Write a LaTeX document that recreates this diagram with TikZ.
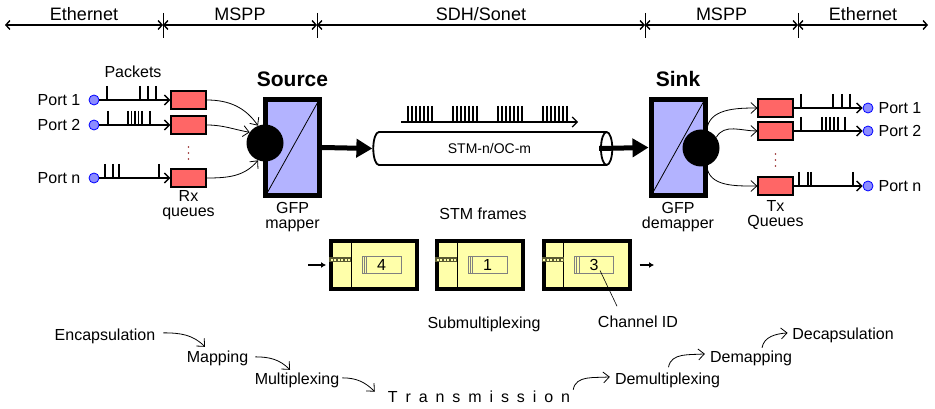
\documentclass[tikz,border=0pt]{standalone}
\usepackage{fontspec}
\setmainfont{Liberation Sans}
\usetikzlibrary{arrows.meta, positioning, shapes.geometric, calc}
\definecolor{red1}{RGB}{255,102,102}
\definecolor{lavender1}{RGB}{179,179,255}
\definecolor{blue1}{RGB}{140,140,255}
\definecolor{yellow1}{RGB}{255,255,170}
\definecolor{olive1}{RGB}{90,90,50}
\definecolor{dots1}{RGB}{150,40,40}
\newcommand{\lsp}{\hspace{7.9pt}}

\begin{document}
\begin{tikzpicture}[x=1pt, y=-1pt,
    every node/.style={inner sep=0pt, font=\fontsize{16}{15}\selectfont},
    layer/.style={line width=1.4pt, {Straight Barb[length=4pt, width=9pt]}-{Straight Barb[length=4pt, width=9pt]}},
    layertick/.style={line width=0.9pt},
    port/.style={circle, draw=blue, fill=blue1, minimum size=10pt, line width=0.8pt},
    queue/.style={draw=black, fill=red1, line width=1.2pt, minimum width=35pt, minimum height=18pt},
    pktarrow/.style={line width=1.4pt, -{Straight Barb[length=5pt, width=10pt]}},
    pktbar/.style={line width=2.4pt},
    flowarrow/.style={line width=0.8pt, -{Straight Barb[length=6pt, width=11pt]}},
    gfpbox/.style={draw=black, fill=lavender1, line width=5pt, minimum width=54pt, minimum height=96pt},
    hub/.style={circle, fill=black, minimum size=37pt},
    trunk/.style={line width=5pt, -{Triangle[length=16pt, width=18pt]}},
    stmframe/.style={draw=black, fill=yellow1, line width=4pt, minimum width=86pt, minimum height=48pt},
    payload/.style={draw=gray, line width=0.8pt, minimum width=39pt, minimum height=17pt},
    feedarrow/.style={line width=1.3pt, -{Latex[length=5pt, width=6pt]}}
]
    \useasboundingbox (0,0) rectangle (935,409);

    % network layers on top
    \foreach \n/\x in {0/5, 1/163, 2/317, 3/645, 4/798, 5/928}
        \coordinate (B\n) at (\x,25);
    \foreach \n in {1,2,3,4}
        \draw[layertick] ([yshift=12pt]B\n) -- ([yshift=-13pt]B\n);
    \foreach \a/\b/\t in {0/1/Ethernet, 1/2/MSPP, 2/3/{SDH/Sonet}, 3/4/MSPP, 4/5/Ethernet}
        \draw[layer] (B\a) -- (B\b) node[midway, above=4pt, font=\fontsize{18}{18}\selectfont] {\t};

    % source side
    \node (pktT) at (133,72) {Packets};
    \foreach \i/\y in {1/100, 2/125, n/178}
    {
        \node[port] (inP\i) at (94,\y) {};
        \node[left=8pt of inP\i] (inL\i) {Port \i};
        \node[queue] (rxQ\i) at (188.5,\y) {};
        \draw[pktarrow] (inP\i) -- (rxQ\i);
    };
    \foreach \x in {107,140,148,156} \draw[pktbar] (\x,86) -- (\x,100);
    \foreach \x in {108,150} \draw[pktbar] (\x,111) -- (\x,125);
    \foreach \x in {128,131.5,135,138.5,142} \draw[pktbar, line width=1.6pt] (\x,111) -- (\x,125);
    \foreach \x in {105,113,119,159} \draw[pktbar] (\x,164) -- (\x,178);
    \foreach \y in {147,153,159} \fill[dots1] (188.5,\y) circle (0.8pt);
    \node[below=3pt of rxQn, align=center] (rxT) {Rx\\queues};

    \node[gfpbox] (mapper) at (292.5,147.5) {};
    \draw[line width=0.8pt] ([shift={(3pt,3pt)}]mapper.south west) -- ([shift={(-3pt,-3pt)}]mapper.north east);
    \node[hub] (hubIn) at (265,143) {};
    \node[above=10pt of mapper, font=\fontsize{21}{21}\selectfont\bfseries] (srcT) {Source};
    \node[below=4.5pt of mapper, align=center] (mapperT) {GFP\\mapper};
    \draw[flowarrow] (rxQ1.east) to[out=0, in=125] (hubIn.112);
    \draw[flowarrow] (rxQ2.east) to[out=0, in=170] (hubIn.145);
    \draw[flowarrow] (rxQn.east) to[out=0, in=-130] (hubIn.248);

    % transport
    \node[cylinder, draw, line width=1.8pt, aspect=1.1, minimum width=33pt, minimum height=239pt,
          font=\fontsize{14}{14}\selectfont] (pipe) at (489.5,148.5) {STM-n/OC-m};
    \draw[trunk] (mapper.east) -- (pipe.west);
    \coordinate (trainA) at (401,122);
    \coordinate (trainB) at (578,122);
    \draw[pktarrow, line width=1.2pt] (trainA) -- (trainB);
    \foreach \g in {408,453,498,543}
        \foreach \k in {0,...,6}
            \draw[line width=1.2pt] (\g+4*\k,106) -- (\g+4*\k,122);

    % sink side
    \node[gfpbox] (demapper) at (678,147.5) {};
    \draw[line width=0.8pt] ([shift={(3pt,3pt)}]demapper.south west) -- ([shift={(-3pt,-3pt)}]demapper.north east);
    \node[hub] (hubOut) at (701,148) {};
    \draw[trunk] ([xshift=-14pt]pipe.east) -- (demapper.west);
    \node[above=10pt of demapper, font=\fontsize{21}{21}\selectfont\bfseries] (sinkT) {Sink};
    \node[below=4.5pt of demapper, align=center] (demapperT) {GFP\\demapper};

    \foreach \i/\y in {1/108, 2/131, n/186}
    {
        \node[queue] (txQ\i) at (775.5,\y) {};
        \node[port] (outP\i) at (868,\y) {};
        \node[right=5pt of outP\i] (outL\i) {Port \i};
        \draw[pktarrow] (txQ\i) -- (outP\i);
    };
    \foreach \x in {801,833,842,850} \draw[pktbar] (\x,94) -- (\x,108);
    \foreach \x in {801,845} \draw[pktbar] (\x,117) -- (\x,131);
    \foreach \x in {822,826,830,834,838} \draw[pktbar, line width=1.6pt] (\x,117) -- (\x,131);
    \foreach \x in {799,808,811,853} \draw[pktbar] (\x,172) -- (\x,186);
    \foreach \y in {154,160,166} \fill[dots1] (775.5,\y) circle (0.8pt);
    \node[below=5pt of txQn, align=center] (txT) {Tx\\Queues};
    \draw[flowarrow] (hubOut.72) to[out=85, in=180] (txQ1.west);
    \draw[flowarrow] (hubOut.35) to[out=60, in=180] (txQ2.west);
    \draw[flowarrow] (hubOut.-72) to[out=-85, in=180] (txQn.west);

    % STM frames
    \node[anchor=base] (stmT) at (483,219) {STM frames};
    \foreach \i/\x/\c in {1/374/4, 2/480/1, 3/586.5/3}
    {
        \node[stmframe] (frm\i) at (\x,265) {};
        \draw[line width=1pt] ([xshift=22pt]frm\i.north west) -- ([xshift=22pt]frm\i.south west);
        \fill[olive1] ([yshift=8pt]frm\i.west) rectangle ([shift={(22pt,3pt)}]frm\i.west);
        \foreach \k in {0,...,5}
            \fill[yellow1] ([shift={(1.5pt+3.5pt*\k,4.5pt)}]frm\i.west) rectangle ++(2pt,2pt);
        \node[payload] (pay\i) at ([xshift=7.5pt]frm\i.center) {\c};
        \draw[gray, line width=0.6pt] ([xshift=2.5pt]pay\i.north west) -- ([xshift=2.5pt]pay\i.south west);
        \draw[gray, line width=0.6pt] ([xshift=5pt]pay\i.north west) -- ([xshift=5pt]pay\i.south west);
    };
    \coordinate (feedIn) at (308,265);
    \coordinate (feedOut) at (654,265);
    \draw[feedarrow, shorten >=3pt] (feedIn) -- (frm1.west);
    \draw[feedarrow, shorten <=8pt] (frm3.east) -- (feedOut);
    \node[anchor=base] (subT) at (484,328) {Submultiplexing};
    \node[anchor=base] (chanT) at (638,327) {Channel ID};
    \draw[line width=0.6pt] ([shift={(6pt,-5.5pt)}]pay3.center) -- ([shift={(-21pt,9pt)}]chanT.north);

    % processing steps
    \node[anchor=base] (encT) at (105,340) {Encapsulation};
    \node[anchor=base] (mapT) at (217.5,362) {Mapping};
    \node[anchor=base] (muxT) at (297,384) {Multiplexing};
    \node[anchor=base] (trT) at (479,402) {T\lsp r\lsp a\lsp n\lsp s\lsp m\lsp i\lsp s\lsp s\lsp i\lsp o\lsp n};
    \node[anchor=base] (dmuxT) at (667.5,384) {Demultiplexing};
    \node[anchor=base] (dmapT) at (751,362) {Demapping};
    \node[anchor=base] (dcapT) at (843,339) {Decapsulation};

    \draw[flowarrow] ([shift={(8pt,3pt)}]encT.east) to[out=0, in=135] ([shift={(-12.5pt,3.4pt)}]mapT.north);
    \draw[flowarrow] ([shift={(7pt,1pt)}]mapT.east) to[out=0, in=135] ([shift={(-7pt,2.4pt)}]muxT.north);
    \draw[flowarrow] ([shift={(3pt,2pt)}]muxT.east) to[out=0, in=135] ([shift={(-13pt,-1.5pt)}]trT.north west);
    \draw[flowarrow] ([shift={(3pt,0.5pt)}]trT.north east) to[out=80, in=185] ([shift={(-5pt,3pt)}]dmuxT.west);
    \draw[flowarrow] ([shift={(1pt,5pt)}]dmuxT.north) to[out=80, in=185] ([shift={(-5pt,4pt)}]dmapT.west);
    \draw[flowarrow] ([shift={(11pt,2.4pt)}]dmapT.north) to[out=80, in=185] ([shift={(-4.5pt,2pt)}]dcapT.west);
\end{tikzpicture}
\end{document}
